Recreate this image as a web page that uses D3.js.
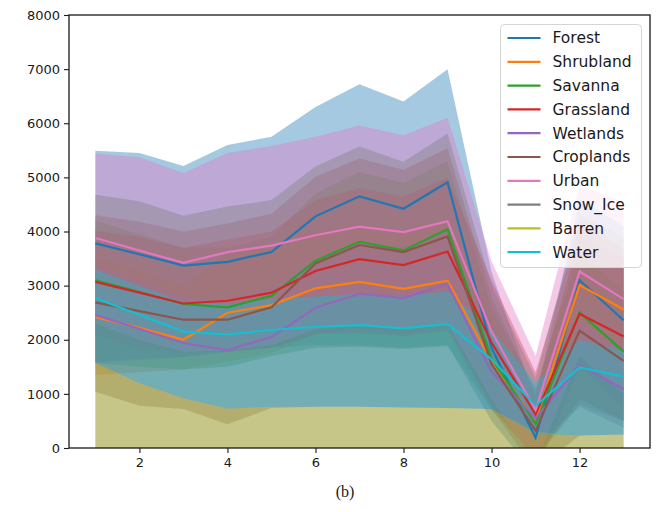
<!DOCTYPE html>
<html>
<head>
<meta charset="utf-8">
<script src="https://cdn.jsdelivr.net/npm/d3@7/dist/d3.min.js"></script>
<style>
  html, body { margin: 0; padding: 0; background: #fff; }
  svg { display: block; }
</style>
</head>
<body>
<svg id="chart" width="658" height="512"></svg>
<script>
// x positions (months) and tick labels
const months = [1, 2, 3, 4, 5, 6, 7, 8, 9, 10, 11, 12, 13];
const xTicks = [2, 4, 6, 8, 10, 12];
const yTicks = [0, 1000, 2000, 3000, 4000, 5000, 6000, 7000, 8000];

const classes = ["Forest", "Shrubland", "Savanna", "Grassland", "Wetlands",
                 "Croplands", "Urban", "Snow_Ice", "Barren", "Water"];
const colors = ["#1f77b4", "#ff7f0e", "#2ca02c", "#d62728", "#9467bd",
                "#8c564b", "#e377c2", "#7f7f7f", "#bcbd22", "#17becf"];

// mean curves (null = no mean line recorded)
const forestMean    = [3780, 3580, 3370, 3440, 3620, 4280, 4650, 4420, 4910, 1850, 190, 3100, 2360];
const shrublandMean = [2420, 2220, 2000, 2500, 2640, 2950, 3070, 2940, 3090, 1600, 500, 3010, 2560];
const savannaMean   = [3100, 2880, 2660, 2600, 2810, 3460, 3810, 3650, 4040, 1650, 450, 2500, 1780];
const grasslandMean = [3070, 2870, 2670, 2720, 2870, 3270, 3490, 3380, 3630, 1950, 620, 2480, 2060];
const wetlandsMean  = [2460, 2200, 1940, 1810, 2050, 2590, 2850, 2770, 3030, 1410, 550, 1530, 1090];
const croplandsMean = [2690, 2530, 2370, 2370, 2600, 3410, 3750, 3620, 3910, 1550, 320, 2170, 1610];
const urbanMean     = [3880, 3650, 3420, 3620, 3740, 3930, 4090, 3990, 4190, 2150, 700, 3260, 2750];
const snowIceMean   = null;
const barrenMean    = null;
const waterMean     = [2770, 2460, 2150, 2100, 2180, 2240, 2270, 2210, 2290, 1640, 780, 1490, 1320];

// spread bands (low / high)
const forestLow     = [1600, 1650, 1680, 1780, 1850, 1900, 1900, 1850, 1900, 500, -500, 1500, 700];
const forestHigh    = [5490, 5450, 5210, 5600, 5750, 6300, 6720, 6400, 7000, 3250, 900, 4600, 4100];
const shrublandLow  = [1350, 1400, 1450, 1600, 1750, 2100, 2120, 2070, 2160, 800, 0, 2100, 1600];
const shrublandHigh = [3500, 3300, 3000, 3600, 3700, 4000, 4150, 4000, 4200, 2400, 1000, 3900, 3500];
const savannaLow    = [1570, 1500, 1450, 1500, 1700, 1850, 1870, 1830, 1880, 720, -200, 800, 500];
const savannaHigh   = [4200, 3950, 3700, 3700, 3900, 4700, 5100, 4900, 5300, 2600, 1100, 3600, 2900];
const grasslandLow  = [2100, 1850, 1750, 1780, 1850, 2100, 2200, 2100, 2250, 800, -200, 900, 500];
const grasslandHigh = [4020, 3900, 3700, 3850, 4000, 4580, 4800, 4650, 5000, 3100, 1400, 4100, 3700];
const wetlandsLow   = [1570, 1620, 1680, 1780, 1850, 2100, 2120, 2070, 2160, 700, 0, 760, 380];
const wetlandsHigh  = [3400, 3100, 2800, 2700, 2950, 3500, 3800, 3700, 3950, 2100, 1100, 2300, 1800];
const croplandsLow  = [1040, 780, 720, 440, 740, 760, 760, 750, 740, 720, -400, 230, 250];
const croplandsHigh = [4300, 4180, 4000, 4150, 4330, 5010, 5350, 5140, 5540, 2800, 1000, 3900, 3500];
const urbanLow      = [2300, 2000, 1780, 1800, 1900, 2200, 2250, 2200, 2300, 900, -300, 1700, 1000];
const urbanHigh     = [5440, 5370, 5080, 5450, 5580, 5750, 5960, 5780, 6100, 3450, 1700, 4850, 4550];
const snowIceLow    = [-300, -400, -400, -500, -400, -400, -400, -400, -400, -400, -500, -400, -400];
const snowIceHigh   = [4680, 4560, 4290, 4460, 4580, 5200, 5570, 5290, 5810, 3000, 1300, 4300, 3900];
const barrenLow     = [-200, -200, -200, -200, -200, -200, -200, -200, -200, -200, -200, -200, -200];
const barrenHigh    = [1570, 1200, 920, 730, 760, 760, 760, 750, 740, 720, 300, 230, 250];
const waterLow      = [1570, 1200, 920, 730, 760, 760, 760, 750, 740, 720, 260, 230, 250];
const waterHigh     = [3300, 3000, 2700, 2650, 2750, 2800, 2850, 2800, 2900, 2200, 1200, 2000, 1800];

const means = [forestMean, shrublandMean, savannaMean, grasslandMean, wetlandsMean,
               croplandsMean, urbanMean, snowIceMean, barrenMean, waterMean];
const lows  = [forestLow, shrublandLow, savannaLow, grasslandLow, wetlandsLow,
               croplandsLow, urbanLow, snowIceLow, barrenLow, waterLow];
const highs = [forestHigh, shrublandHigh, savannaHigh, grasslandHigh, wetlandsHigh,
               croplandsHigh, urbanHigh, snowIceHigh, barrenHigh, waterHigh];

const series = classes.map((name, i) => ({
  name, color: colors[i], mean: means[i], low: lows[i], high: highs[i]
}));

const margin = { left: 69, right: 8, top: 15, bottom: 64 };
const W = 658, H = 512;
const x = d3.scaleLinear().domain([0.4, 13.6]).range([margin.left, W - margin.right]);
const y = d3.scaleLinear().domain([0, 8000]).range([H - margin.bottom, margin.top]);

const svg = d3.select("#chart");
const font = "DejaVu Sans, sans-serif";

svg.append("defs").append("clipPath").attr("id", "plot-clip")
  .append("rect")
  .attr("x", x.range()[0]).attr("y", y.range()[1])
  .attr("width", x.range()[1] - x.range()[0])
  .attr("height", y.range()[0] - y.range()[1]);

const plot = svg.append("g").attr("clip-path", "url(#plot-clip)");

// shaded spread bands first
const area = d3.area()
  .x((d, i) => x(months[i]))
  .y0(d => y(d[0]))
  .y1(d => y(d[1]));

series.forEach(s => {
  const pts = months.map((m, i) => [s.low[i], s.high[i]]);
  plot.append("path")
    .attr("d", area(pts))
    .attr("fill", s.color)
    .attr("fill-opacity", 0.4)
    .attr("stroke", "none");
});

// mean lines on top
const line = d3.line()
  .defined(d => d != null)
  .x((d, i) => x(months[i]))
  .y(d => y(d));

series.forEach(s => {
  if (!s.mean) return;
  plot.append("path")
    .attr("d", line(s.mean))
    .attr("fill", "none")
    .attr("stroke", s.color)
    .attr("stroke-width", 2.2)
    .attr("stroke-linejoin", "miter");
});

// axes
const xAxis = d3.axisBottom(x).tickValues(xTicks).tickSize(5).tickPadding(5).tickFormat(d3.format("d"));
const yAxis = d3.axisLeft(y).tickValues(yTicks).tickSize(5).tickPadding(4).tickFormat(d3.format("d"));

const gx = svg.append("g").attr("transform", `translate(0,${y.range()[0]})`).call(xAxis);
const gy = svg.append("g").attr("transform", `translate(${x.range()[0]},0)`).call(yAxis);
[gx, gy].forEach(g => {
  g.select(".domain").remove();
  g.selectAll("text").attr("font-family", font).attr("font-size", 13).attr("fill", "#1a1a1a");
  g.selectAll("line").attr("stroke", "#1a1a1a").attr("stroke-width", 1.1);
});

// frame
svg.append("rect")
  .attr("x", x.range()[0]).attr("y", y.range()[1])
  .attr("width", x.range()[1] - x.range()[0])
  .attr("height", y.range()[0] - y.range()[1])
  .attr("fill", "none").attr("stroke", "#1a1a1a").attr("stroke-width", 1.3);

// legend
const lg = svg.append("g").attr("transform", "translate(500.5,24.5)");
lg.append("rect")
  .attr("width", 141).attr("height", 243)
  .attr("rx", 4).attr("ry", 4)
  .attr("fill", "#fff").attr("fill-opacity", 0.8)
  .attr("stroke", "#d4d4d4").attr("stroke-width", 1);
series.forEach((s, i) => {
  const row = lg.append("g").attr("transform", `translate(0,${13.5 + i * 23.8})`);
  row.append("line")
    .attr("x1", 7).attr("x2", 40).attr("y1", 0).attr("y2", 0)
    .attr("stroke", s.color).attr("stroke-width", 2.2);
  row.append("text")
    .attr("x", 52).attr("y", 0).attr("dy", "0.35em")
    .attr("font-family", font).attr("font-size", 15.5).attr("fill", "#1a1a1a")
    .text(s.name);
});

// caption
svg.append("text")
  .attr("x", 345).attr("y", 497)
  .attr("text-anchor", "middle")
  .attr("font-family", "Liberation Serif, Times New Roman, serif")
  .attr("font-size", 16).attr("fill", "#1a1a1a")
  .text("(b)");
</script>
</body>
</html>
